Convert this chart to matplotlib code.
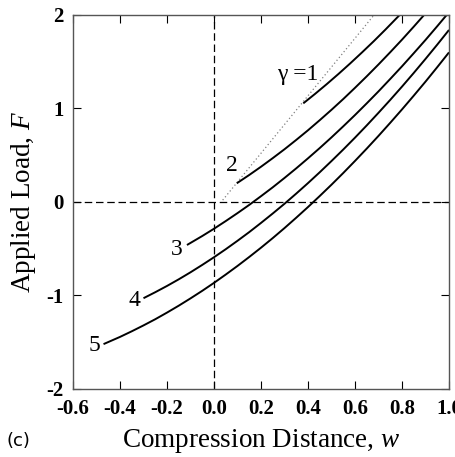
import numpy as np
import matplotlib.pyplot as plt

# curves: compression distance w, applied load F
w1 = [0.38, 0.43, 0.48, 0.53, 0.58, 0.63, 0.68, 0.73, 0.79]
f1 = [1.055, 1.156, 1.261, 1.370, 1.483, 1.600, 1.720, 1.845, 2.0]

w2 = [0.097, 0.15, 0.20, 0.25, 0.30, 0.35, 0.40, 0.45, 0.50, 0.55, 0.60, 0.65,
      0.70, 0.75, 0.80, 0.85, 0.894]
f2 = [0.20, 0.289, 0.377, 0.469, 0.564, 0.664, 0.767, 0.875, 0.986, 1.101, 1.221, 1.344,
      1.471, 1.602, 1.736, 1.875, 2.0]

w3 = [-0.115, -0.05, 0.0, 0.05, 0.10, 0.15, 0.20, 0.25, 0.30, 0.35, 0.40, 0.45, 0.50,
      0.55, 0.60, 0.65, 0.70, 0.75, 0.80, 0.85, 0.90, 0.95, 0.99]
f3 = [-0.460, -0.364, -0.286, -0.204, -0.119, -0.031, 0.062, 0.157, 0.257, 0.360, 0.467,
      0.577, 0.691, 0.809, 0.930, 1.055, 1.183, 1.316, 1.451, 1.591, 1.733, 1.880, 2.0]

w4 = [-0.30, -0.25, -0.20, -0.15, -0.10, -0.05, 0.0, 0.05, 0.10, 0.15, 0.20, 0.25, 0.30,
      0.35, 0.40, 0.45, 0.50, 0.55, 0.60, 0.65, 0.70, 0.75, 0.80, 0.85, 0.90, 0.95, 1.0]
f4 = [-1.029, -0.965, -0.898, -0.827, -0.752, -0.673, -0.591, -0.505, -0.415, -0.322,
      -0.224, -0.123, -0.019, 0.090, 0.202, 0.318, 0.438, 0.561, 0.688, 0.819, 0.954,
      1.092, 1.234, 1.380, 1.530, 1.683, 1.840]

w5 = [-0.47, -0.40, -0.35, -0.30, -0.25, -0.20, -0.15, -0.10, -0.05, 0.0, 0.05, 0.10, 0.15,
      0.20, 0.25, 0.30, 0.35, 0.40, 0.45, 0.50, 0.55, 0.60, 0.65, 0.70, 0.75, 0.80, 0.85,
      0.90, 0.95, 1.0]
f5 = [-1.520, -1.443, -1.383, -1.320, -1.254, -1.183, -1.109, -1.031, -0.950, -0.865,
      -0.776, -0.684, -0.588, -0.489, -0.386, -0.279, -0.168, -0.054, 0.064, 0.185, 0.310,
      0.439, 0.571, 0.707, 0.847, 0.990, 1.137, 1.287, 1.442, 1.600]

# dotted locus of start points
wd = [0.037, 0.681]
fd = [0.02, 2.0]

labels = ['\u03b3 =1', '2', '3', '4', '5']
label_pos = [(0.355, 1.36), (0.077, 0.39), (-0.16, -0.51), (-0.34, -1.05), (-0.51, -1.54)]

xticks = [-0.6, -0.4, -0.2, 0.0, 0.2, 0.4, 0.6, 0.8, 1.0]
yticks = [-2, -1, 0, 1, 2]

plt.rcParams['font.family'] = ['Liberation Serif', 'DejaVu Serif']
plt.rcParams['mathtext.fontset'] = 'custom'
plt.rcParams['mathtext.it'] = 'Liberation Serif:italic'
plt.rcParams['mathtext.rm'] = 'Liberation Serif'

fig = plt.figure(figsize=(4.55, 4.57), dpi=100)
ax = fig.add_axes([0.1604, 0.1488, 0.8264, 0.8184])

ax.axhline(0, color='black', lw=0.9, ls=(0, (6, 3)))
ax.axvline(0, color='black', lw=0.9, ls=(0, (6, 3)))
ax.plot(wd, fd, color='gray', lw=0.9, ls=(0, (1, 2)))

for w, f in [(w1, f1), (w2, f2), (w3, f3), (w4, f4), (w5, f5)]:
    ax.plot(w, f, color='black', lw=1.4, solid_capstyle='butt', solid_joinstyle='round')

for txt, (x, y) in zip(labels, label_pos):
    ax.text(x, y, txt, fontsize=17, ha='center', va='center')

ax.set_xlim(-0.6, 1.0)
ax.set_ylim(-2, 2)
ax.set_xticks(xticks)
ax.set_yticks(yticks)
ax.set_xticklabels(['%.1f' % t for t in xticks], fontweight='bold', fontsize=15)
ax.set_yticklabels(['%d' % t for t in yticks], fontweight='bold', fontsize=15)
ax.tick_params(direction='in', top=True, right=True, length=6, width=0.8, pad=7)
for s in ax.spines.values():
    s.set_color('#555555')
    s.set_linewidth(1.0)

ax.set_xlabel('Compression Distance, $\\mathit{w}$', fontsize=19.5, labelpad=6)
ax.set_ylabel('Applied Load, $\\mathit{F}$', fontsize=19.5, labelpad=6)
fig.text(0.015, 0.025, '(c)', fontsize=13, family='DejaVu Sans')

fig.savefig('out.png', dpi=100)
